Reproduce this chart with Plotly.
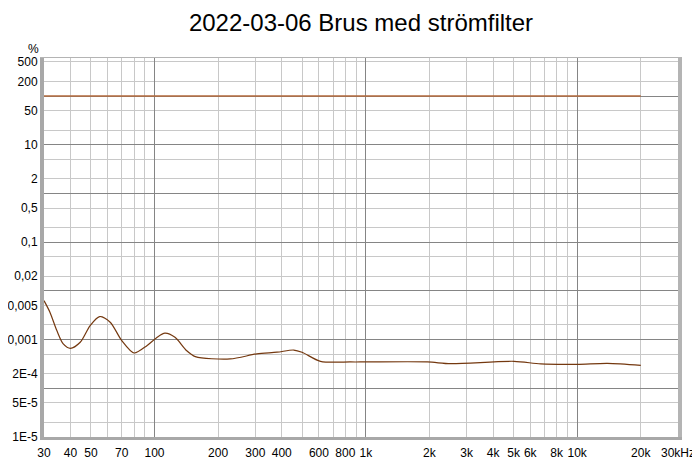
import plotly.graph_objects as go

# ---- data ----
freq_hz = [30, 32, 34.5, 37, 40, 44.5, 49.6, 55, 61.7, 70, 80, 92, 102, 112, 125, 142, 156,
           228, 305, 380, 456, 499, 610, 845, 1000, 1955, 2520, 5025, 6730, 10000, 13900, 20000]
noise_pct = [0.0063, 0.00365, 0.00153, 0.000815, 0.00066, 0.00088, 0.00194, 0.00297, 0.00227,
             0.00095, 0.00053, 0.00075, 0.00108, 0.00135, 0.00111, 0.00059, 0.000447,
             0.00040, 0.00051, 0.00055, 0.00061, 0.00055, 0.000358, 0.000347, 0.000347,
             0.000347, 0.00032, 0.000358, 0.000316, 0.00031, 0.000325, 0.000296]

ref_freq = [30, 20000]
ref_pct = [100, 100]

x_tickvals = [30, 40, 50, 70, 100, 200, 300, 400, 600, 800, 1000, 2000, 3000, 4000, 5000,
              6000, 8000, 10000, 20000, 30000]
x_ticktext = ["30", "40", "50", "70", "100", "200", "300", "400", "600", "800", "1k", "2k",
              "3k", "4k", "5k", "6k", "8k", "10k", "20k", "30kHz"]
x_minor = [m * 10 ** e for e in range(1, 5) for m in range(2, 10) if 30 <= m * 10 ** e <= 30000]
x_major = [100, 1000, 10000]

y_tickvals = [500, 200, 50, 10, 2, 0.5, 0.1, 0.02, 0.005, 0.001, 2e-4, 5e-5, 1e-5]
y_ticktext = ["500", "200", "50", "10", "2", "0,5", "0,1", "0,02", "0,005", "0,001",
              "2E-4", "5E-5", "1E-5"]
y_minor = [m * 10.0 ** e for e in range(-5, 3) for m in (2, 5)]
y_major = [10.0 ** e for e in range(-4, 3)]

title_text = "2022-03-06 Brus med strömfilter"

# ---- figure ----
# the page body has an 8px default margin, so the figure is drawn 8px smaller
FONT = "Liberation Sans, Arial, sans-serif"
LIGHT = "#c8c8c8"
DARK = "#858585"
xr = [1.4771213, 4.4771213]
yr = [-5, 2.78]
W, H = 692, 455
L, R, T, B = 36, 22, 50, 26
PW, PH = W - L - R, H - T - B

fig = go.Figure()
fig.add_trace(go.Scatter(x=freq_hz, y=noise_pct, mode="lines",
                         line=dict(color="#74380f", width=1.2, shape="spline", smoothing=0.8),
                         xaxis="x", yaxis="y", showlegend=False, hoverinfo="skip"))
fig.add_trace(go.Scatter(x=ref_freq, y=ref_pct, mode="lines",
                         line=dict(color="#b36a3c", width=1.6),
                         xaxis="x2", yaxis="y2", showlegend=False, hoverinfo="skip"))

fig.update_layout(
    template="none",
    width=W, height=H,
    margin=dict(l=L, r=R, t=T, b=B, autoexpand=False),
    paper_bgcolor="white", plot_bgcolor="white",
    font=dict(family=FONT, size=12, color="#000000"),
    title=dict(text=title_text, x=0.5, xanchor="center", xref="paper",
               y=1 - 15 / H, yref="container", yanchor="middle",
               font=dict(family=FONT, size=24, color="#000000")),
    xaxis=dict(type="log", range=xr, tickvals=x_tickvals, ticktext=x_ticktext,
               automargin=False, showgrid=False, zeroline=False, ticks="",
               showline=True, linecolor="#a8a8a8", linewidth=3, mirror=False,
               ticklabelstandoff=3,
               minor=dict(tickvals=x_minor, showgrid=True, gridcolor=LIGHT, gridwidth=1, ticks=""),
               tickfont=dict(family=FONT, size=12, color="#000000")),
    xaxis2=dict(type="log", range=xr, overlaying="x", anchor="y2", side="top",
                automargin=False, tickvals=x_major, showticklabels=False, showgrid=True,
                gridcolor=DARK, gridwidth=1, zeroline=False, ticks="",
                showline=True, linecolor="#b4b4b4", linewidth=1),
    yaxis=dict(type="log", range=yr, tickvals=y_tickvals, ticktext=y_ticktext,
               automargin=False, showgrid=False, zeroline=False, ticks="",
               showline=True, linecolor="#a8a8a8", linewidth=4,
               minor=dict(tickvals=y_minor, showgrid=True, gridcolor=LIGHT, gridwidth=1, ticks=""),
               tickfont=dict(family=FONT, size=12, color="#000000")),
    yaxis2=dict(type="log", range=yr, overlaying="y", anchor="x2", side="right",
                automargin=False, tickvals=y_major, showticklabels=False, showgrid=True,
                gridcolor=DARK, gridwidth=1, zeroline=False, ticks="",
                showline=True, linecolor="#b4b4b4", linewidth=4),
    annotations=[dict(text="%", x=(25 - L) / PW, y=(H - B - 41) / PH,
                      xref="paper", yref="paper", showarrow=False,
                      xanchor="center", yanchor="middle",
                      font=dict(family=FONT, size=12, color="#000000"))],
)

fig.write_html("out.html")
